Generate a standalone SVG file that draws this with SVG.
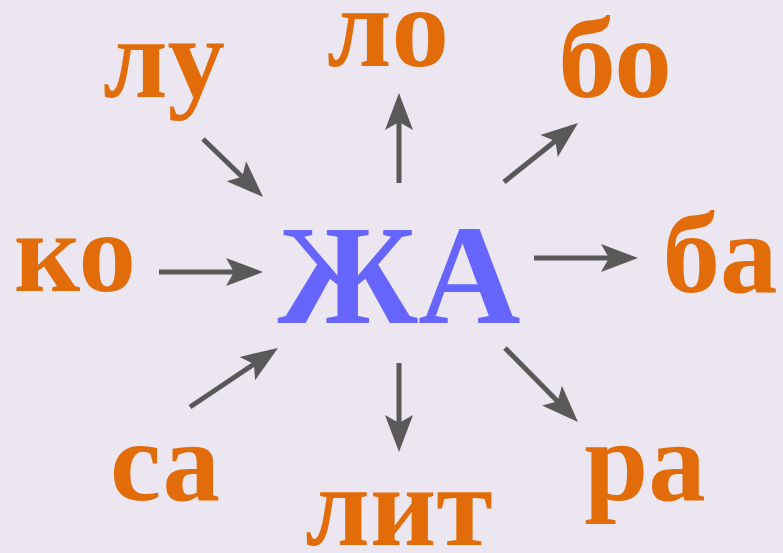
<svg xmlns="http://www.w3.org/2000/svg" width="783" height="553" viewBox="0 0 783 553">
<style>
.lbl{font-family:"Liberation Serif","Times New Roman",serif;font-weight:bold;font-size:115px;fill:#e36c0a;text-anchor:middle}
.main{font-family:"Liberation Serif","Times New Roman",serif;font-weight:bold;font-size:142px;fill:#6666ff;text-anchor:middle}
.arr{stroke:#595959;stroke-width:5;fill:none;marker-end:url(#ah)}
</style>
<defs>
<marker id="ah" markerUnits="userSpaceOnUse" viewBox="0 -15 40 30" refX="10" refY="0" markerWidth="40" markerHeight="30" orient="auto">
<path d="M0,-14 L37,0 L0,14 L8,0 Z" fill="#595959"/>
</marker>
</defs>
<rect width="783" height="553" fill="#ebe6f0"/>
<g id="connectors">
<line class="arr" x1="203" y1="139" x2="243.6" y2="178.2"/>
<line class="arr" x1="399" y1="183" x2="399" y2="120"/>
<line class="arr" x1="504" y1="182" x2="556.9" y2="139.8"/>
<line class="arr" x1="159" y1="272" x2="236" y2="272"/>
<line class="arr" x1="534" y1="258" x2="611" y2="258"/>
<line class="arr" x1="190" y1="407" x2="255.6" y2="363"/>
<line class="arr" x1="399" y1="363" x2="399" y2="425"/>
<line class="arr" x1="505" y1="348" x2="559" y2="402.8"/>
</g>
<g id="center"><text class="main" x="399" y="323">ЖА</text></g>
<g id="lu"><text class="lbl" x="164" y="97">лу</text></g>
<g id="lo"><text class="lbl" x="388" y="66">ло</text></g>
<g id="bo"><text class="lbl" x="615" y="97">бо</text></g>
<g id="ko"><text class="lbl" x="75" y="291">ко</text></g>
<g id="ba"><text class="lbl" x="720" y="292">ба</text></g>
<g id="sa"><text class="lbl" x="165" y="500">са</text></g>
<g id="lit"><text class="lbl" x="399" y="545">лит</text></g>
<g id="ra"><text class="lbl" x="645" y="500">ра</text></g>
</svg>
